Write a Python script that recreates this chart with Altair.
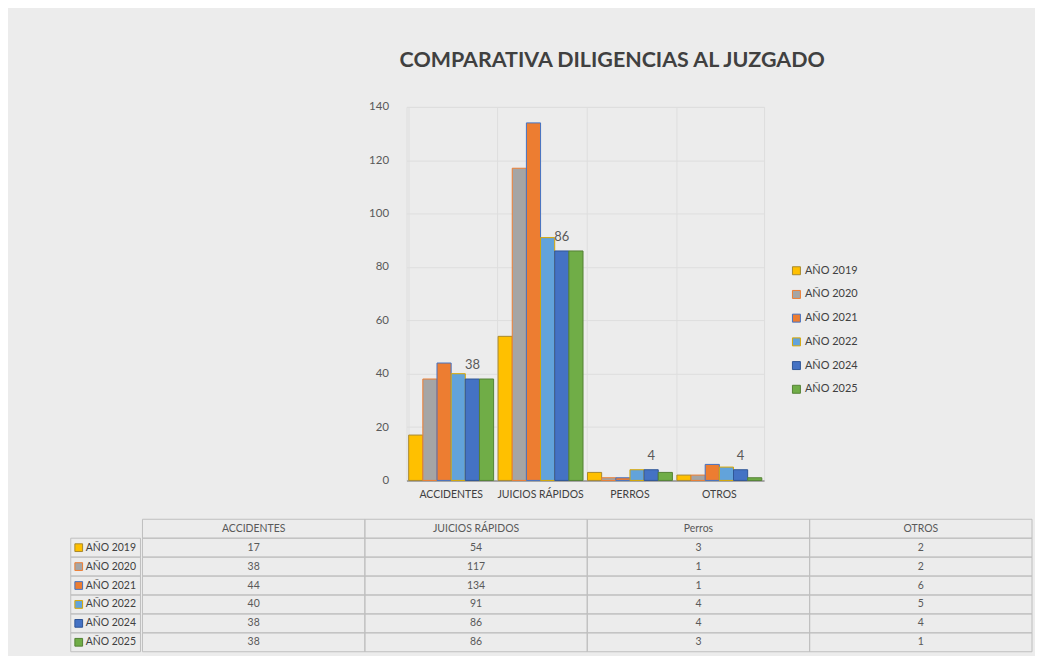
import altair as alt
import pandas as pd

years = ["AÑO 2019", "AÑO 2020", "AÑO 2021", "AÑO 2022", "AÑO 2024", "AÑO 2025"]
categories = ["ACCIDENTES", "JUICIOS RÁPIDOS", "PERROS", "OTROS"]
table_headers = ["ACCIDENTES", "JUICIOS RÁPIDOS", "Perros", "OTROS"]
values_2019 = [17, 54, 3, 2]
values_2020 = [38, 117, 1, 2]
values_2021 = [44, 134, 1, 6]
values_2022 = [40, 91, 4, 5]
values_2024 = [38, 86, 4, 4]
values_2025 = [38, 86, 3, 1]
y_ticks = [0, 20, 40, 60, 80, 100, 120, 140]
fill_colors = ["#FFC000", "#A5A5A5", "#ED7D31", "#62A3DB", "#4472C4", "#70AD47"]
stroke_colors = ["#A8892E", "#ED7D31", "#4472C4", "#D9A800", "#2F5597", "#548235"]
labelled_year = "AÑO 2024"
title_text = "COMPARATIVA DILIGENCIAS AL JUZGADO"

FONT = "Lato"
series = [values_2019, values_2020, values_2021, values_2022, values_2024, values_2025]

rows = []
for y, vals in zip(years, series):
    for c, h, v in zip(categories, table_headers, vals):
        rows.append({"year": y, "cat": c, "header": h, "value": v})
df = pd.DataFrame(rows)

# ---------- bar chart ----------
color_scale = alt.Scale(domain=years, range=fill_colors)
stroke_scale = alt.Scale(domain=years, range=stroke_colors)
legend_cfg = alt.Legend(
    title=None, orient="none", legendX=386, legendY=159, symbolType="square",
    symbolSize=64, symbolStrokeWidth=1, labelFontSize=11, labelFont=FONT,
    labelColor="#404040", rowPadding=10.8, labelOffset=3,
)

x_enc = alt.X(
    "cat:N", sort=categories,
    scale=alt.Scale(paddingInner=0.05, paddingOuter=0.025),
    axis=alt.Axis(title=None, labelAngle=0, labelFontSize=10.5, labelFont=FONT,
                  labelColor="#404040", ticks=False, labelPadding=9,
                  domainColor="#a6a6a6", domainWidth=2, grid=True,
                  gridColor="#dedede", bandPosition=0),
)
xoff_enc = alt.XOffset("year:N", sort=years, scale=alt.Scale(paddingInner=0, paddingOuter=0))
y_enc = alt.Y(
    "value:Q", scale=alt.Scale(domain=[0, 140]),
    axis=alt.Axis(title=None, values=y_ticks, labelFontSize=11.5, labelFont=FONT,
                  labelColor="#595959", ticks=False, tickSize=0, labelPadding=18,
                  domain=False, gridColor="#dedede"),
)

base = alt.Chart(df)
bars = base.mark_bar(strokeWidth=1).encode(
    x=x_enc, xOffset=xoff_enc, y=y_enc,
    color=alt.Color("year:N", sort=years, scale=color_scale, legend=legend_cfg),
    stroke=alt.Stroke("year:N", sort=years, scale=stroke_scale, legend=legend_cfg),
)
labels = base.transform_filter(alt.datum.year == labelled_year).mark_text(
    dy=-14, fontSize=13, font=FONT, color="#595959"
).encode(x=x_enc, xOffset=xoff_enc, y=y_enc, text="value:Q")

bar_chart = alt.layer(bars, labels).properties(
    width=359, height=375,
    title=alt.TitleParams(title_text, fontSize=21.5, font=FONT, fontWeight="bold",
                          color="#404040", anchor="middle", frame="group",
                          dx=27, offset=30),
    view=alt.ViewBackground(stroke="#dedede"),
)

spacer = alt.Chart(pd.DataFrame({"v": [0]})).mark_point(opacity=0).properties(
    width=297, height=375, view=alt.ViewBackground(stroke="transparent")
)

# ---------- data table ----------
header_key = "encabezado"
row_order = [header_key] + years
tdf = pd.concat([
    pd.DataFrame({"row": df["year"], "col": df["header"], "txt": df["value"].astype(str)}),
    pd.DataFrame({"row": [header_key] * len(table_headers), "col": table_headers, "txt": table_headers}),
], ignore_index=True)

tx = alt.X("col:N", sort=table_headers, axis=None, scale=alt.Scale(paddingInner=0, paddingOuter=0))
ty = alt.Y("row:N", sort=row_order, axis=None, scale=alt.Scale(domain=row_order, paddingInner=0, paddingOuter=0))
tbase = alt.Chart(tdf)
cells = tbase.mark_rect(fill="transparent", stroke="#bfbfbf", strokeWidth=1).encode(x=tx, y=ty)
ctext = tbase.mark_text(fontSize=10.5, font=FONT, color="#595959").encode(x=tx, y=ty, text="txt:N")
data_table = alt.layer(cells, ctext).properties(
    width=893, height=133, view=alt.ViewBackground(stroke="transparent")
)

ldf = pd.DataFrame({"row": years})
lbase = alt.Chart(ldf)
lcells = lbase.mark_rect(fill="transparent", stroke="#bfbfbf", strokeWidth=1).encode(y=ty)
lsq = lbase.mark_square(size=60, strokeWidth=1, opacity=1).encode(
    y=ty, x=alt.value(8),
    fill=alt.Fill("row:N", scale=alt.Scale(domain=years, range=fill_colors), legend=None),
    stroke=alt.Stroke("row:N", scale=alt.Scale(domain=years, range=stroke_colors), legend=None),
)
ltext = lbase.mark_text(align="left", fontSize=10.5, font=FONT, color="#404040").encode(
    y=ty, x=alt.value(15), text="row:N"
)
label_table = alt.layer(lcells, lsq, ltext).properties(
    width=70, height=133, view=alt.ViewBackground(stroke="transparent")
)

top_row = alt.hconcat(spacer, bar_chart, spacing=0).resolve_scale(color="independent", stroke="independent")
bottom_row = alt.hconcat(label_table, data_table, spacing=0).resolve_scale(
    fill="independent", stroke="independent", y="shared")

chart = alt.vconcat(top_row, bottom_row, spacing=18).resolve_scale(
    color="independent", stroke="independent", fill="independent"
).properties(
    padding={"left": 62, "top": 40, "right": 2, "bottom": 2},
    background="#ececec",
).configure_view(strokeWidth=1)

chart.save("out.html", embed_options={"renderer": "svg", "actions": False})
